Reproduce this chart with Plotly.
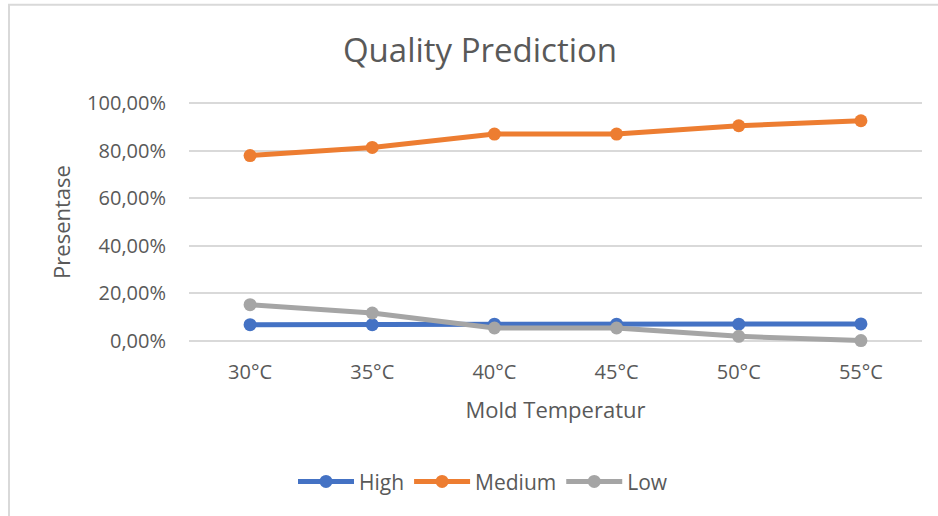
import plotly.graph_objects as go

categories = ["30°C", "35°C", "40°C", "45°C", "50°C", "55°C"]
high = [0.069, 0.069, 0.071, 0.071, 0.071, 0.072]
medium = [0.779, 0.813, 0.869, 0.869, 0.904, 0.925]
low = [0.153, 0.118, 0.055, 0.055, 0.020, 0.002]
y_ticks = [0, 0.2, 0.4, 0.6, 0.8, 1.0]
y_tick_labels = ["0,00%", "20,00%", "40,00%", "60,00%", "80,00%", "100,00%"]

series = [("High", high, "#4472C4"), ("Medium", medium, "#ED7D31"), ("Low", low, "#A5A5A5")]

W, H = 938, 516
L, R, T, B = 189, 16, 91.4, 163.4
pw, ph = W - L - R, H - T - B

def px_x(px):
    return (px - L) / pw

def px_y(py):
    return (H - B - py) / ph

fig = go.Figure()
for name, vals, color in series:
    fig.add_trace(go.Scatter(
        x=categories, y=vals, name=name, mode="lines+markers",
        line=dict(color=color, width=5),
        marker=dict(color=color, size=13),
        cliponaxis=False,
    ))

txt = "#595959"
font = "Open Sans, sans-serif"
fig.update_layout(
    width=W, height=H,
    margin=dict(l=L, r=R, t=T, b=B, autoexpand=False),
    paper_bgcolor="white", plot_bgcolor="white",
    font=dict(family=font, color=txt),
    title=dict(text="Quality Prediction", font=dict(size=33, color=txt, family=font),
               x=480 / W, xref="container", xanchor="center",
               y=1 - 50 / H, yref="container", yanchor="middle"),
    xaxis=dict(type="category", range=[-0.5, 5.5], showgrid=False, zeroline=False,
               showline=False, ticks="outside", ticklen=1, tickcolor="rgba(0,0,0,0)",
               tickfont=dict(size=20, color=txt),
               title=dict(text="Mold Temperatur", font=dict(size=22, color=txt), standoff=18)),
    yaxis=dict(range=[-0.05, 1.05], tickvals=y_ticks, ticktext=y_tick_labels,
               showgrid=True, gridcolor="#D9D9D9", gridwidth=1.5, zeroline=False,
               showline=False, ticks="outside", ticklen=18, tickcolor="rgba(0,0,0,0)",
               tickfont=dict(size=20, color=txt),
               title=dict(text="Presentase", font=dict(size=22, color=txt), standoff=10)),
    legend=dict(orientation="h", x=483 / W, xref="container", xanchor="center",
                y=px_y(481), yanchor="middle", font=dict(size=21, color=txt),
                itemwidth=56, tracegroupgap=0),
    shapes=[dict(type="rect", xref="paper", yref="paper",
                 x0=px_x(9), x1=px_x(960), y0=px_y(540), y1=px_y(5.5),
                 line=dict(color="#D9D9D9", width=2), fillcolor="rgba(0,0,0,0)", layer="below")],
)

fig.write_html("out.html")
